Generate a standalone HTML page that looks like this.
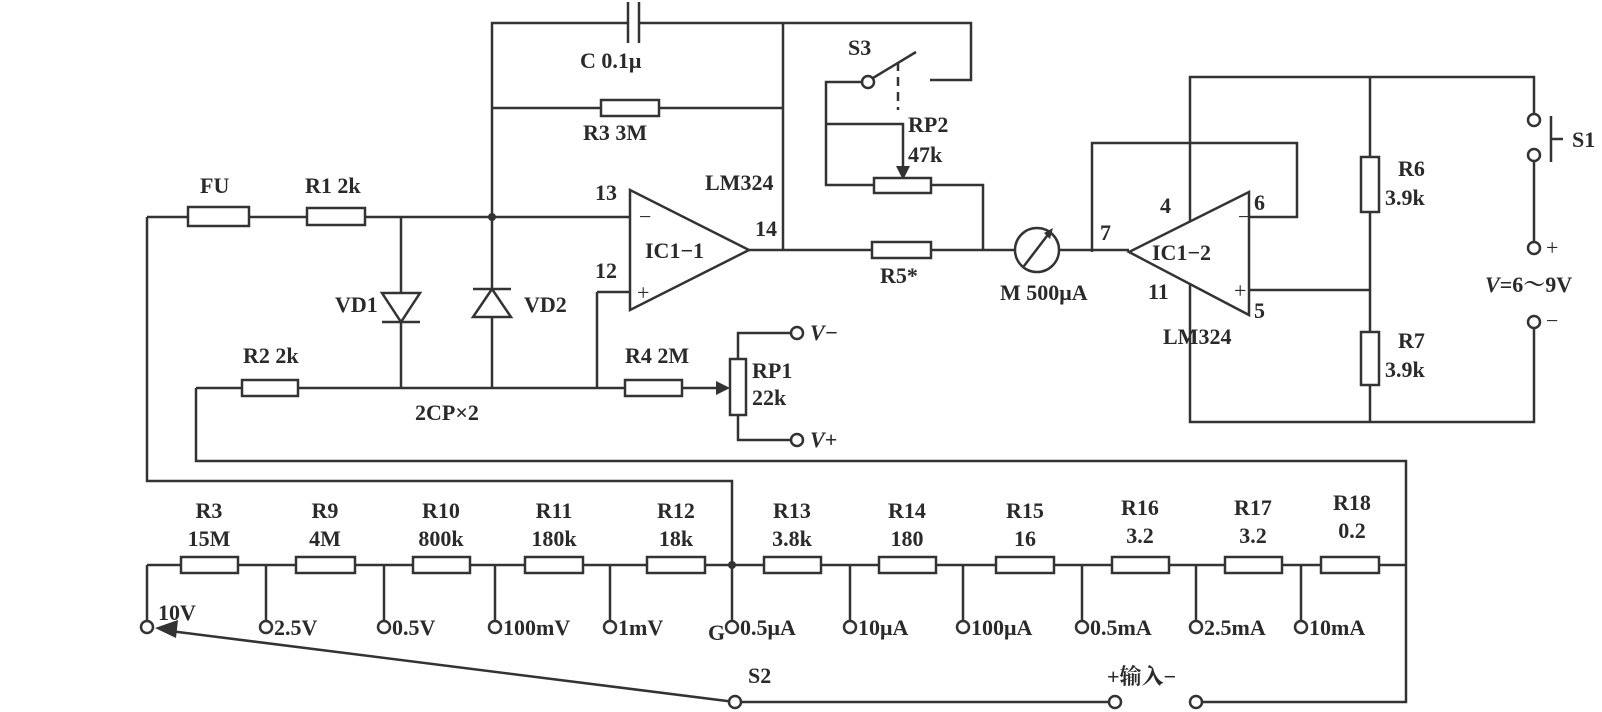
<!DOCTYPE html>
<html><head><meta charset="utf-8"><style>
html,body{margin:0;padding:0;background:#fff;}
svg{display:block}
text{font-family:"Liberation Serif","Noto Serif CJK SC",serif;font-size:22px;fill:#2a2a2a;font-weight:bold}
.w{fill:none;stroke:#333;stroke-width:2.5}
.r{fill:#fff;stroke:#333;stroke-width:2.5}
</style></head><body>
<svg width="1602" height="712" viewBox="0 0 1602 712" xmlns="http://www.w3.org/2000/svg">
<path class="w" d="M492 217 V23 H628 M639 23 H971 V80 H930 M783 23 V250 M492 108 H601 M659 108 H783"/>
<path class="w" d="M628 2 V43 M639 2 V43"/>
<rect class="r" x="601" y="100" width="58" height="16"/>
<text x="580" y="68">C  0.1μ</text>
<text x="583" y="140">R3  3M</text>
<circle class="r" cx="868" cy="82" r="6"/>
<path class="w" d="M862 82 H826 V185 H874 M826 124 H903 V172 M873 78 L916 52"/>
<path class="w" d="M898 62 V110" stroke-dasharray="9,6"/>
<polygon points="896,166 910,166 903,180" fill="#333"/>
<rect class="r" x="874" y="178" width="57" height="15"/>
<path class="w" d="M931 185 H983 V250"/>
<text x="848" y="55">S3</text>
<text x="908" y="132">RP2</text>
<text x="908" y="162">47k</text>
<polygon class="r" points="630,190 630,310 749,250"/>
<path class="w" d="M147 217 H188 M249 217 H307 M365 217 H630 M597 292 H630 M749 250 H872 M931 250 H1015 M1059 250 H1129"/>
<text x="639" y="224" style="font-weight:normal">−</text>
<text x="637" y="300" style="font-weight:normal">+</text>
<text x="645" y="258">IC1−1</text>
<text x="705" y="190">LM324</text>
<text x="595" y="200">13</text>
<text x="595" y="278">12</text>
<text x="755" y="236">14</text>
<circle cx="492" cy="217" r="4" fill="#333"/>
<rect class="r" x="188" y="207" width="61" height="19"/>
<rect class="r" x="307" y="208" width="58" height="17"/>
<text x="200" y="193">FU</text>
<text x="305" y="193">R1  2k</text>
<rect class="r" x="872" y="242" width="59" height="16"/>
<text x="880" y="283">R5*</text>
<circle class="r" cx="1037" cy="250" r="22"/>
<path class="w" d="M1024 266 L1050 232"/>
<polygon points="1053,228 1044,233 1050,239" fill="#333"/>
<text x="1000" y="300">M 500μA</text>
<path class="w" d="M401 217 V388 M492 217 V388"/>
<polygon class="r" points="382,293 420,293 401,322"/>
<path class="w" d="M382 322 H420"/>
<polygon class="r" points="473,317 511,317 492,289"/>
<path class="w" d="M473 289 H511"/>
<text x="335" y="312">VD1</text>
<text x="524" y="312">VD2</text>
<path class="w" d="M597 292 V388 M196 388 H242 M298 388 H625 M682 388 H722 M196 388 V461 H1406 V702 H1202 M147 217 V481 H732 V565"/>
<polygon points="730,388 716,381 716,395" fill="#333"/>
<rect class="r" x="242" y="380" width="56" height="16"/>
<rect class="r" x="625" y="380" width="57" height="16"/>
<text x="243" y="363">R2  2k</text>
<text x="415" y="420">2CP×2</text>
<text x="625" y="363">R4  2M</text>
<rect class="r" x="730" y="359" width="16" height="56"/>
<path class="w" d="M738 359 V333 H791 M738 415 V440 H791"/>
<circle class="r" cx="797" cy="333" r="6"/>
<circle class="r" cx="797" cy="440" r="6"/>
<text x="810" y="340" font-style="italic">V−</text>
<text x="810" y="447" font-style="italic">V+</text>
<text x="752" y="378">RP1</text>
<text x="752" y="405">22k</text>
<polygon class="r" points="1249,192 1249,315 1129,252"/>
<path class="w" d="M1092 252 V143 H1297 V217 H1249 M1249 290 H1370 M1190 222 V77 H1534 V114 M1190 283 V422 H1534 V328 M1370 77 V157 M1370 212 V332 M1370 385 V422 M1534 161 V242"/>
<text x="1238" y="224" style="font-weight:normal">−</text>
<text x="1234" y="298" style="font-weight:normal">+</text>
<text x="1152" y="260">IC1−2</text>
<text x="1163" y="344">LM324</text>
<text x="1160" y="213">4</text>
<text x="1254" y="210">6</text>
<text x="1100" y="240">7</text>
<text x="1148" y="299">11</text>
<text x="1254" y="318">5</text>
<rect class="r" x="1361" y="157" width="18" height="55"/>
<rect class="r" x="1361" y="332" width="18" height="53"/>
<text x="1398" y="176">R6</text>
<text x="1385" y="205">3.9k</text>
<text x="1398" y="348">R7</text>
<text x="1385" y="377">3.9k</text>
<circle class="r" cx="1534" cy="120" r="6"/>
<circle class="r" cx="1534" cy="155" r="6"/>
<path class="w" d="M1551 116 V162 M1551 139 H1563" stroke-width="3"/>
<text x="1572" y="147">S1</text>
<circle class="r" cx="1534" cy="248" r="6"/>
<circle class="r" cx="1534" cy="322" r="6"/>
<text x="1546" y="255" style="font-weight:normal">+</text>
<text x="1546" y="328" style="font-weight:normal">−</text>
<text x="1485" y="292"><tspan font-style="italic">V</tspan>=6～9V</text>
<path class="w" d="M147 565 H1406 M147 565 V621 M266 565 V621 M384 565 V621 M495 565 V621 M610 565 V621 M732 565 V621 M850 565 V621 M963 565 V621 M1082 565 V621 M1196 565 V621 M1301 565 V621"/>
<circle cx="732" cy="565" r="4" fill="#333"/>
<g class="r">
<rect x="181" y="557" width="57" height="16"/><rect x="296" y="557" width="59" height="16"/><rect x="413" y="557" width="57" height="16"/><rect x="525" y="557" width="58" height="16"/><rect x="647" y="557" width="58" height="16"/>
<rect x="764" y="557" width="57" height="16"/><rect x="879" y="557" width="57" height="16"/><rect x="996" y="557" width="58" height="16"/><rect x="1112" y="557" width="57" height="16"/><rect x="1225" y="557" width="57" height="16"/><rect x="1321" y="557" width="58" height="16"/>
</g>
<g class="r">
<circle cx="147" cy="627" r="6"/><circle cx="266" cy="627" r="6"/><circle cx="384" cy="627" r="6"/><circle cx="495" cy="627" r="6"/><circle cx="610" cy="627" r="6"/><circle cx="732" cy="627" r="6"/>
<circle cx="850" cy="627" r="6"/><circle cx="963" cy="627" r="6"/><circle cx="1082" cy="627" r="6"/><circle cx="1196" cy="627" r="6"/><circle cx="1301" cy="627" r="6"/>
</g>
<g text-anchor="middle">
<text x="209" y="518">R3</text><text x="209" y="546">15M</text>
<text x="325" y="518">R9</text><text x="325" y="546">4M</text>
<text x="441" y="518">R10</text><text x="441" y="546">800k</text>
<text x="554" y="518">R11</text><text x="554" y="546">180k</text>
<text x="676" y="518">R12</text><text x="676" y="546">18k</text>
<text x="792" y="518">R13</text><text x="792" y="546">3.8k</text>
<text x="907" y="518">R14</text><text x="907" y="546">180</text>
<text x="1025" y="518">R15</text><text x="1025" y="546">16</text>
<text x="1140" y="515">R16</text><text x="1140" y="543">3.2</text>
<text x="1253" y="515">R17</text><text x="1253" y="543">3.2</text>
<text x="1352" y="510">R18</text><text x="1352" y="538">0.2</text>
</g>
<text x="158" y="620">10V</text>
<text x="274" y="635">2.5V</text>
<text x="392" y="635">0.5V</text>
<text x="503" y="635">100mV</text>
<text x="618" y="635">1mV</text>
<text x="708" y="640">G</text>
<text x="740" y="635">0.5μA</text>
<text x="858" y="635">10μA</text>
<text x="971" y="635">100μA</text>
<text x="1090" y="635">0.5mA</text>
<text x="1204" y="635">2.5mA</text>
<text x="1309" y="635">10mA</text>
<path class="w" d="M735 702 L170 631 M741 702 H1109"/>
<polygon points="155,628 178,620 176,638" fill="#333"/>
<circle class="r" cx="735" cy="702" r="6"/>
<circle class="r" cx="1115" cy="702" r="6"/>
<circle class="r" cx="1196" cy="702" r="6"/>
<text x="748" y="683">S2</text>
<text x="1107" y="684">+输入−</text>
</svg>
</body></html>
